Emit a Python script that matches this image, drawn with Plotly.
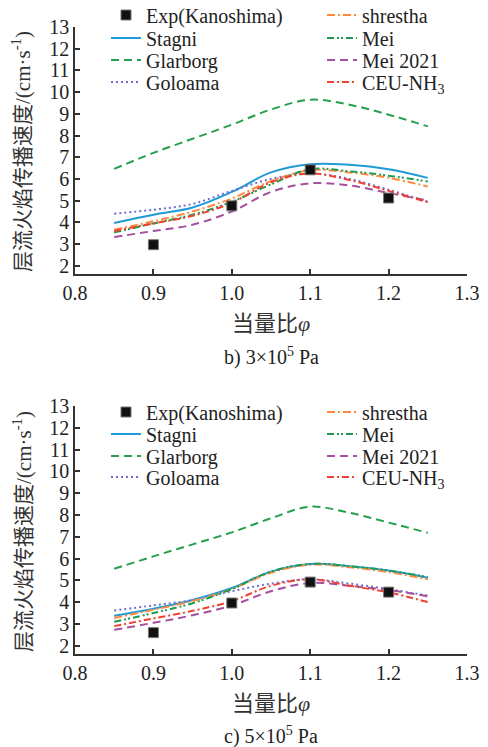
import plotly.graph_objects as go

phi = [0.85, 0.90, 0.95, 1.00, 1.05, 1.10, 1.15, 1.20, 1.25]
phi_exp = [0.9, 1.0, 1.1, 1.2]

# panel b) 3x10^5 Pa
exp_b = [2.97, 4.76, 6.42, 5.12]
stagni_b = [3.97, 4.35, 4.68, 5.40, 6.30, 6.68, 6.65, 6.45, 6.05]
glarborg_b = [6.46, 7.20, 7.85, 8.50, 9.20, 9.65, 9.42, 8.96, 8.42]
goloama_b = [4.40, 4.58, 4.85, 5.45, 6.00, 6.25, 6.00, 5.50, 4.95]
shrestha_b = [3.66, 4.05, 4.50, 5.10, 5.90, 6.40, 6.30, 6.05, 5.65]
mei_b = [3.53, 3.95, 4.35, 4.95, 5.75, 6.45, 6.35, 6.15, 5.88]
mei2021_b = [3.32, 3.60, 3.89, 4.50, 5.40, 5.80, 5.70, 5.35, 5.00]
ceu_b = [3.60, 3.95, 4.30, 4.90, 5.85, 6.25, 5.95, 5.45, 4.93]

# panel c) 5x10^5 Pa
exp_c = [2.60, 3.96, 4.92, 4.46]
stagni_c = [3.38, 3.70, 4.10, 4.65, 5.40, 5.75, 5.65, 5.45, 5.12]
glarborg_c = [5.53, 6.10, 6.65, 7.20, 7.85, 8.38, 8.10, 7.65, 7.18]
goloama_c = [3.62, 3.85, 4.10, 4.50, 4.85, 5.05, 4.85, 4.60, 4.30]
shrestha_c = [3.27, 3.65, 4.05, 4.60, 5.35, 5.72, 5.60, 5.38, 5.05]
mei_c = [3.10, 3.50, 3.95, 4.60, 5.40, 5.75, 5.65, 5.45, 5.15]
mei2021_c = [2.73, 3.05, 3.40, 3.85, 4.50, 4.88, 4.75, 4.55, 4.27]
ceu_c = [2.90, 3.25, 3.60, 4.05, 4.75, 5.05, 4.75, 4.45, 4.00]

x_ticks = [0.8, 0.9, 1.0, 1.1, 1.2, 1.3]
y_ticks = list(range(2, 14))

FONT = "'Liberation Serif', 'Times New Roman', 'Noto Sans CJK SC', serif"

styles = {
    "Stagni": dict(color="#1E9BD7", dash="solid"),
    "Glarborg": dict(color="#25A04A", dash="8px,5px"),
    "Goloama": dict(color="#6E6ED2", dash="2px,3px"),
    "shrestha": dict(color="#FF8A3D", dash="8px,3px,2px,3px"),
    "Mei": dict(color="#1F9A50", dash="7px,3px,2px,2px,2px,3px"),
    "Mei 2021": dict(color="#A5509E", dash="8px,5px"),
    "CEU-NH<sub>3</sub>": dict(color="#F0402E", dash="7px,3px,2px,3px"),
}

col1 = ["Exp(Kanoshima)", "Stagni", "Glarborg", "Goloama"]
col2 = ["shrestha", "Mei", "Mei 2021", "CEU-NH<sub>3</sub>"]

panels = [
    ("x", "y", exp_b,
     {"Stagni": stagni_b, "Glarborg": glarborg_b, "Goloama": goloama_b,
      "shrestha": shrestha_b, "Mei": mei_b, "Mei 2021": mei2021_b,
      "CEU-NH<sub>3</sub>": ceu_b},
     [15, 38, 60, 82]),
    ("x2", "y2", exp_c,
     {"Stagni": stagni_c, "Glarborg": glarborg_c, "Goloama": goloama_c,
      "shrestha": shrestha_c, "Mei": mei_c, "Mei 2021": mei2021_c,
      "CEU-NH<sub>3</sub>": ceu_c},
     [412, 434, 456, 477]),
]

def px_x(p):
    return p / 488.0

def px_y(p):
    return 1 - p / 747.0

fig = go.Figure()
legend_layout = {}
leg_font = dict(family=FONT, size=20, color="#222222")
leg_idx = 0

def new_legend(xpx, ypx):
    global leg_idx
    leg_idx += 1
    lid = "legend" if leg_idx == 1 else f"legend{leg_idx}"
    legend_layout[lid] = dict(x=px_x(xpx), y=px_y(ypx), xanchor="left", yanchor="middle",
                              bgcolor="rgba(0,0,0,0)", font=leg_font, itemwidth=30,
                              orientation="v", borderwidth=0, visible=True)
    return lid

for xa, ya, exp, series, rows in panels:
    legend_ids = {}
    for i, name in enumerate(col1):
        legend_ids[name] = new_legend(106, rows[i])
    for i, name in enumerate(col2):
        legend_ids[name] = new_legend(322, rows[i])
    for name in col1[1:] + col2:
        st = styles[name]
        fig.add_trace(go.Scatter(
            x=phi, y=series[name], mode="lines", name=name,
            xaxis=xa, yaxis=ya, legend=legend_ids[name], showlegend=True,
            line=dict(color=st["color"], dash=st["dash"], width=2, shape="spline", smoothing=1.0),
        ))
    fig.add_trace(go.Scatter(
        x=phi_exp, y=exp, mode="markers", name="Exp(Kanoshima)",
        xaxis=xa, yaxis=ya, legend=legend_ids["Exp(Kanoshima)"], showlegend=True,
        marker=dict(symbol="square", size=10, color="#111111",
                    line=dict(color="#777777", width=1)),
    ))

xdom = [px_x(75), px_x(467)]
axis_common = dict(showline=True, linecolor="#333333", linewidth=1.5,
                   ticks="inside", ticklen=5, tickwidth=1.5, tickcolor="#333333",
                   showgrid=False, zeroline=False, automargin=False,
                   tickfont=dict(family=FONT, size=20, color="#222222"))

fig.update_layout(
    width=488, height=747,
    showlegend=True,
    margin=dict(l=0, r=0, t=0, b=0, autoexpand=False),
    paper_bgcolor="white", plot_bgcolor="white",
    font=dict(family=FONT, size=18, color="#222222"),
    xaxis=dict(domain=xdom, range=[0.8, 1.3], tickvals=x_ticks, tickformat=".1f",
               anchor="y", **axis_common),
    yaxis=dict(domain=[px_y(274), px_y(27)], range=[1.62, 13], tickvals=y_ticks,
               anchor="x", **axis_common),
    xaxis2=dict(domain=xdom, range=[0.8, 1.3], tickvals=x_ticks, tickformat=".1f",
                anchor="y2", **axis_common),
    yaxis2=dict(domain=[px_y(654), px_y(406)], range=[1.62, 13], tickvals=y_ticks,
                anchor="x2", **axis_common),
    **legend_layout,
)

ytitle = "层流火焰传播速度/(cm·s<sup>-1</sup>)"
anns = []
for cy, xt_y, sub_y, sub in [(152, 323, 357, "b) 3×10<sup>5</sup> Pa"),
                             (532, 703, 735, "c) 5×10<sup>5</sup> Pa")]:
    anns.append(dict(x=px_x(22), y=px_y(cy), xref="paper", yref="paper",
                     text=ytitle, textangle=-90, showarrow=False,
                     font=dict(family=FONT, size=21, color="#333333"),
                     xanchor="center", yanchor="middle"))
    anns.append(dict(x=px_x(271), y=px_y(xt_y), xref="paper", yref="paper",
                     text="当量比<i>φ</i>", showarrow=False,
                     font=dict(family=FONT, size=22, color="#333333"),
                     xanchor="center", yanchor="middle"))
    anns.append(dict(x=px_x(271), y=px_y(sub_y), xref="paper", yref="paper",
                     text=sub, showarrow=False,
                     font=dict(family=FONT, size=20, color="#222222"),
                     xanchor="center", yanchor="middle"))
fig.update_layout(annotations=anns)

fig.write_html("out.html")
